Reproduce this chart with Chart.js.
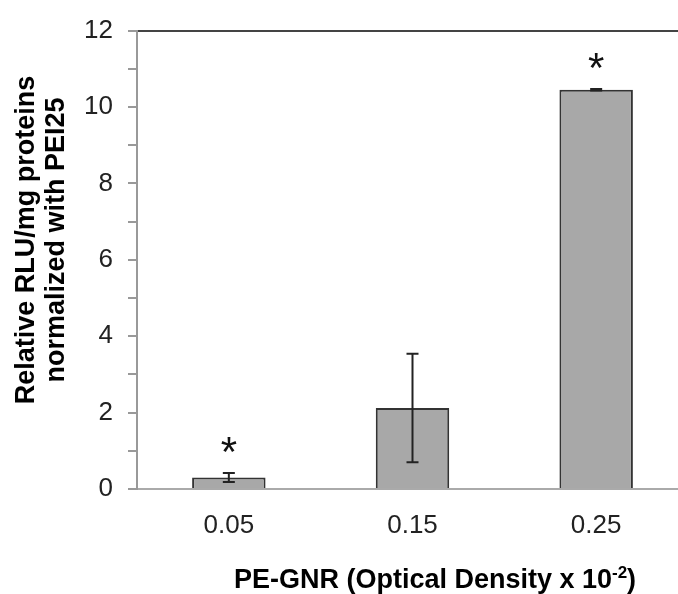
<!DOCTYPE html>
<html>
<head>
<meta charset="utf-8">
<script src="https://cdn.jsdelivr.net/npm/chart.js@4"></script>
<style>
  html, body { margin: 0; padding: 0; background: #fff; overflow: hidden; }
</style>
</head>
<body>
<canvas id="chart" width="688" height="594"></canvas>
<script>
// data
const categories = ['0.05', '0.15', '0.25'];
const means = [0.30, 2.12, 10.45];
const errors = [0.12, 1.42, 0.02];
const stars = ['*', '', '*'];

const yTitle = ['Relative RLU/mg proteins', 'normalized with PEI25'];
const xTitle = 'PE-GNR (Optical Density x 10';
const xTitleSup = '-2';

const FONT = '"Liberation Sans", Arial, sans-serif';

// error bars + asterisks drawn from the scales
const errorBars = {
    id: 'errorBars',
    afterDatasetsDraw(chart) {
        const ctx = chart.ctx;
        const y = chart.scales.y;
        const meta = chart.getDatasetMeta(0);
        ctx.save();
        ctx.strokeStyle = '#222';
        ctx.lineWidth = 2;
        meta.data.forEach((bar, i) => {
            const top = y.getPixelForValue(means[i] + errors[i]);
            const bot = y.getPixelForValue(means[i] - errors[i]);
            ctx.beginPath();
            ctx.moveTo(bar.x, top);
            ctx.lineTo(bar.x, bot);
            ctx.moveTo(bar.x - 6, top);
            ctx.lineTo(bar.x + 6, top);
            ctx.moveTo(bar.x - 6, bot);
            ctx.lineTo(bar.x + 6, bot);
            ctx.stroke();
            if (stars[i]) {
                ctx.fillStyle = '#111';
                ctx.font = '42px ' + FONT;
                ctx.textAlign = 'center';
                ctx.textBaseline = 'alphabetic';
                ctx.fillText(stars[i], bar.x, top - 31 + 24);
            }
        });
        ctx.restore();
    }
};

// axis titles
const axisTitles = {
    id: 'axisTitles',
    afterDraw(chart) {
        const ctx = chart.ctx;
        ctx.save();
        ctx.fillStyle = '#000';
        ctx.font = 'bold 27px ' + FONT;
        ctx.textAlign = 'center';
        ctx.textBaseline = 'middle';
        ctx.save();
        ctx.translate(0, 240);
        ctx.rotate(-Math.PI / 2);
        ctx.fillText(yTitle[0], 0, 27);
        ctx.fillText(yTitle[1], 0, 57);
        ctx.restore();

        // x title with superscript
        const mainW = ctx.measureText(xTitle).width;
        ctx.font = 'bold 17px ' + FONT;
        const supW = ctx.measureText(xTitleSup).width;
        ctx.font = 'bold 27px ' + FONT;
        const closeW = ctx.measureText(')').width;
        let x = 435 - (mainW + supW + closeW) / 2;
        const yy = 581;
        ctx.textAlign = 'left';
        ctx.fillText(xTitle, x, yy);
        x += mainW;
        ctx.font = 'bold 17px ' + FONT;
        ctx.fillText(xTitleSup, x, yy - 8);
        x += supW;
        ctx.font = 'bold 27px ' + FONT;
        ctx.fillText(')', x, yy);
        ctx.restore();
    }
};

new Chart(document.getElementById('chart'), {
    type: 'bar',
    data: {
        labels: categories,
        datasets: [{
            data: means,
            backgroundColor: '#a8a8a8',
            borderColor: '#333',
            borderWidth: 2,
            borderSkipped: 'bottom',
            barPercentage: 0.4,
            categoryPercentage: 1
        }]
    },
    options: {
        responsive: false,
        animation: false,
        layout: { padding: { top: 25, left: 0, right: 0, bottom: 0 } },
        plugins: {
            legend: { display: false },
            tooltip: { enabled: false }
        },
        scales: {
            x: {
                afterFit(scale) { scale.height = 105; },
                grid: { display: false, drawTicks: false },
                border: { color: '#aaa', width: 2 },
                ticks: {
                    color: '#222',
                    padding: 21,
                    font: { family: FONT, size: 26 }
                }
            },
            y: {
                min: 0,
                max: 12,
                afterFit(scale) { scale.width = 137; },
                border: { color: '#999', width: 2 },
                grid: {
                    color: (c) => (c.tick && c.tick.value === 12 ? '#444' : 'rgba(0,0,0,0)'),
                    lineWidth: 2,
                    tickColor: '#999',
                    tickLength: 9
                },
                ticks: {
                    stepSize: 1,
                    autoSkip: false,
                    color: '#222',
                    padding: 15,
                    font: { family: FONT, size: 26 },
                    callback: (v) => (v % 2 === 0 ? v : '')
                }
            }
        }
    },
    plugins: [errorBars, axisTitles]
});
</script>
</body>
</html>
